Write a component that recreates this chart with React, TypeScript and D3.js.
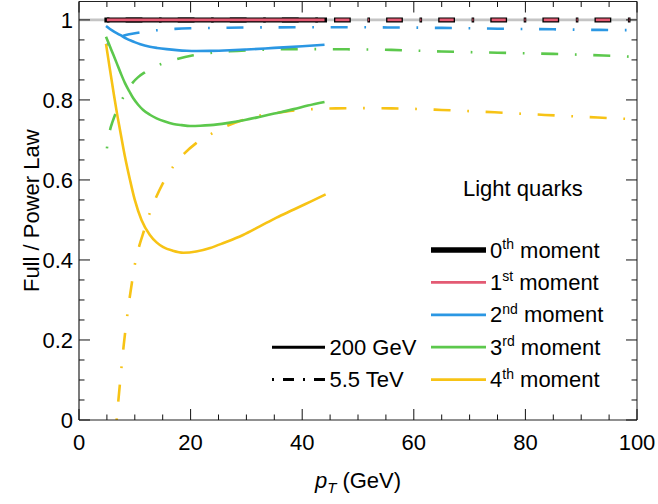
import React from 'react';
import * as d3 from 'd3';

const W = 658;
const H = 504;
const FONT = '"Liberation Sans", Arial, Helvetica, sans-serif';

// Axis ticks
const xMajor = [0, 20, 40, 60, 80, 100];
const xLabels = ['0', '20', '40', '60', '80', '100'];
const yMajor = [0, 0.2, 0.4, 0.6, 0.8, 1];
const yLabels = ['0', '0.2', '0.4', '0.6', '0.8', '1'];

// √s = 200 GeV (solid), pT in GeV vs Full / Power Law ratio
const m0_200: [number, number][] = [[5, 1], [44, 1]];
const m1_200: [number, number][] = [[5, 1], [44, 1]];
const m2_200: [number, number][] = [
  [4.84, 0.985], [6, 0.973], [7.35, 0.9625], [8.5, 0.953], [9.7, 0.946], [11, 0.939],
  [12.7, 0.933], [14, 0.930], [15.7, 0.927], [17.5, 0.9245], [19.3, 0.9228], [21, 0.9222],
  [23.5, 0.9225], [27, 0.924], [30, 0.926], [35, 0.930], [40, 0.934], [44, 0.938],
];
const m3_200: [number, number][] = [
  [4.84, 0.958], [5.8, 0.925], [6.76, 0.892], [7.5, 0.866], [8.24, 0.842], [9, 0.822],
  [9.73, 0.804], [10.6, 0.788], [11.5, 0.775], [12.7, 0.763], [13.9, 0.754], [15.4, 0.746],
  [16.9, 0.740], [18.4, 0.737], [19.9, 0.735], [21.7, 0.7355], [23.5, 0.737], [26.5, 0.742],
  [29.5, 0.749], [32.5, 0.758], [35, 0.766], [38.5, 0.777], [41, 0.786], [44, 0.795],
];
const m4_200: [number, number][] = [
  [4.84, 0.94], [5.5, 0.88], [6.2, 0.818], [6.8, 0.767], [7.35, 0.725], [8.24, 0.658],
  [9.14, 0.600], [10, 0.550], [11.2, 0.500], [12.7, 0.4625], [13.9, 0.444], [15.1, 0.432],
  [16.8, 0.423], [18.7, 0.418], [21, 0.421], [23.5, 0.430], [26, 0.443], [29.4, 0.4625],
  [32.4, 0.484], [35.4, 0.506], [38.5, 0.526], [41.5, 0.546], [44.2, 0.564],
];

// √s = 5.5 TeV (dash-dot)
const m0_5500: [number, number][] = [[5, 1], [99, 1]];
const m1_5500: [number, number][] = [[5, 1], [99, 1]];
const m2_5500: [number, number][] = [
  [5, 0.9375], [6, 0.948], [7, 0.955], [7.65, 0.959], [9, 0.964], [10.6, 0.968],
  [12, 0.971], [13.9, 0.974], [17.2, 0.9775], [19.9, 0.979], [25, 0.980], [30, 0.981],
  [40, 0.9815], [50, 0.9815], [57, 0.981], [65, 0.980], [75, 0.978], [85, 0.9765],
  [93, 0.975], [99, 0.9745],
];
const m3_5500: [number, number][] = [
  [5, 0.679], [5.56, 0.725], [6, 0.745], [6.45, 0.7625], [7.1, 0.784], [7.83, 0.804],
  [8.6, 0.823], [9.55, 0.842], [10.6, 0.857], [11.8, 0.869], [13.2, 0.880], [14.6, 0.889],
  [16, 0.896], [17.6, 0.9025], [20.5, 0.9115], [24, 0.918], [27, 0.9215], [30, 0.924],
  [36, 0.9265], [42, 0.927], [48, 0.9265], [56, 0.925], [65, 0.921], [75, 0.918],
  [85, 0.915], [94, 0.911], [99, 0.908],
];
const m4_5500: [number, number][] = [
  [6.75, 0], [7.05, 0.048], [7.5, 0.115], [8, 0.185], [8.5, 0.245], [9, 0.298],
  [9.5, 0.345], [10, 0.388], [10.8, 0.435], [11.65, 0.473], [12.6, 0.514], [13.8, 0.556],
  [15, 0.591], [16.8, 0.632], [18.8, 0.665], [21, 0.692], [23.8, 0.716], [26.5, 0.735],
  [29.4, 0.750], [32.4, 0.761], [35.7, 0.768], [38.7, 0.774], [42, 0.777], [46, 0.779],
  [51, 0.7795], [56, 0.779], [60.5, 0.7775], [65, 0.775], [74.5, 0.769], [83.5, 0.7625],
  [93, 0.756], [99, 0.752],
];

// Legend
const momentNums = ['0', '1', '2', '3', '4'];
const momentSups = ['th', 'st', 'nd', 'rd', 'th'];
const momentColors = ['#000000', '#E35A73', '#2B97E3', '#5CC84C', '#F7C315'];
const energyLabels = ['200 GeV', '5.5 TeV'];
const titleText = 'Light quarks';

const PLOT = { left: 79, right: 637, top: 1.5, bottom: 420 };

const x = d3.scaleLinear().domain([0, 100]).range([PLOT.left, PLOT.right]);
const y = d3.scaleLinear().domain([0, 1.046]).range([PLOT.bottom, PLOT.top]);

const line = d3
  .line<[number, number]>()
  .x((d) => x(d[0]))
  .y((d) => y(d[1]))
  .curve(d3.curveMonotoneX);

const DASH_DOT = '1.7 16.7 17 16.7';
const DASH_DOT_BLACK = '2.6 16.1 16.8 16.6';
const DASH_DOT_PINK = '0 0.8 1 18.2 14.2 17.9';
const LEGEND_DASH_DOT = '2 9 11 9';

const xMinor = d3.range(0, 101, 5).filter((v) => v % 20 !== 0);
const yMinor = d3.range(0, 21, 1).filter((v) => v % 4 !== 0).map((v) => v * 0.05);

export default function App() {
  const colored200 = [m2_200, m3_200, m4_200];
  const colored5500 = [m2_5500, m3_5500, m4_5500];
  const tickColor = '#111';
  const majorLen = 11;
  const minorLen = 5.5;

  return (
    <svg
      width={W}
      height={H}
      viewBox={`0 0 ${W} ${H}`}
      style={{ position: 'absolute', left: 0, top: 0, background: '#fff' }}
      fontFamily={FONT}
    >
      <rect x={0} y={0} width={W} height={H} fill="#fff" />
      <defs>
        <clipPath id="plotClip">
          <rect x={PLOT.left} y={PLOT.top} width={PLOT.right - PLOT.left} height={PLOT.bottom - PLOT.top} />
        </clipPath>
      </defs>

      <g clipPath="url(#plotClip)">
        {/* reference line at ratio = 1 */}
        <line x1={PLOT.left} x2={PLOT.right} y1={y(1)} y2={y(1)} stroke="#c4c4c4" strokeWidth={2.6} />

        {/* 5.5 TeV, dash-dot */}
        {colored5500.map((s, i) => (
          <path key={`d${i}`} d={line(s) ?? ''} fill="none" stroke={momentColors[i + 2]} strokeWidth={2.6} strokeDasharray={DASH_DOT} />
        ))}
        <path d={line(m0_5500) ?? ''} fill="none" stroke={momentColors[0]} strokeWidth={5} strokeDasharray={DASH_DOT_BLACK} />
        <path d={line(m1_5500) ?? ''} fill="none" stroke={momentColors[1]} strokeWidth={2.8} strokeDasharray={DASH_DOT_PINK} />

        {/* 200 GeV, solid */}
        {colored200.map((s, i) => (
          <path key={`s${i}`} d={line(s) ?? ''} fill="none" stroke={momentColors[i + 2]} strokeWidth={2.6} />
        ))}
        <path d={line(m0_200) ?? ''} fill="none" stroke={momentColors[0]} strokeWidth={5} strokeLinecap="square" />
        <path d={line(m1_200) ?? ''} fill="none" stroke={momentColors[1]} strokeWidth={2.8} />
      </g>

      {/* frame */}
      <line x1={PLOT.right} x2={PLOT.right} y1={PLOT.top} y2={PLOT.bottom} stroke="#8c8c8c" strokeWidth={2} />
      <line x1={PLOT.left} x2={PLOT.right} y1={PLOT.top} y2={PLOT.top} stroke="#222" strokeWidth={1.2} />
      <line x1={PLOT.left} x2={PLOT.left} y1={PLOT.top} y2={PLOT.bottom} stroke="#222" strokeWidth={1.2} />
      <line x1={PLOT.left} x2={PLOT.right} y1={PLOT.bottom} y2={PLOT.bottom} stroke="#222" strokeWidth={1.2} />

      {/* x ticks (bottom and top, inward) */}
      {xMajor.map((v) => (
        <g key={`xM${v}`}>
          <line x1={x(v)} x2={x(v)} y1={PLOT.bottom} y2={PLOT.bottom - majorLen} stroke={tickColor} strokeWidth={1} />
          <line x1={x(v)} x2={x(v)} y1={PLOT.top} y2={PLOT.top + majorLen} stroke={tickColor} strokeWidth={1} />
        </g>
      ))}
      {xMinor.map((v) => (
        <g key={`xm${v}`}>
          <line x1={x(v)} x2={x(v)} y1={PLOT.bottom} y2={PLOT.bottom - minorLen} stroke={tickColor} strokeWidth={1} />
          <line x1={x(v)} x2={x(v)} y1={PLOT.top} y2={PLOT.top + minorLen} stroke={tickColor} strokeWidth={1} />
        </g>
      ))}
      {/* y ticks (left and right, inward) */}
      {yMajor.map((v) => (
        <g key={`yM${v}`}>
          <line x1={PLOT.left} x2={PLOT.left + majorLen} y1={y(v)} y2={y(v)} stroke={tickColor} strokeWidth={1} />
          <line x1={PLOT.right} x2={PLOT.right - majorLen} y1={y(v)} y2={y(v)} stroke={tickColor} strokeWidth={1} />
        </g>
      ))}
      {yMinor.map((v) => (
        <g key={`ym${v}`}>
          <line x1={PLOT.left} x2={PLOT.left + minorLen} y1={y(v)} y2={y(v)} stroke={tickColor} strokeWidth={1} />
          <line x1={PLOT.right} x2={PLOT.right - minorLen} y1={y(v)} y2={y(v)} stroke={tickColor} strokeWidth={1} />
        </g>
      ))}

      {/* tick labels */}
      {xMajor.map((v, i) => (
        <text key={`xl${v}`} x={x(v)} y={450} fontSize={22} textAnchor="middle" fill="#000">
          {xLabels[i]}
        </text>
      ))}
      {yMajor.map((v, i) => (
        <text key={`yl${v}`} x={PLOT.left - 6} y={y(v) + 8} fontSize={22} textAnchor="end" fill="#000">
          {yLabels[i]}
        </text>
      ))}

      {/* axis titles */}
      <text x={(PLOT.left + PLOT.right) / 2} y={488} fontSize={22} textAnchor="middle" fill="#000">
        <tspan fontStyle="italic">p</tspan>
        <tspan fontStyle="italic" fontSize={15} dy={5}>T</tspan>
        <tspan dy={-5}> (GeV)</tspan>
      </text>
      <text transform={`translate(39, ${(PLOT.top + PLOT.bottom) / 2}) rotate(-90)`} fontSize={22} textAnchor="middle" fill="#000">
        Full / Power Law
      </text>

      {/* legend */}
      <text x={463} y={196} fontSize={22} fill="#000">{titleText}</text>
      {momentNums.map((n, i) => {
        const ly = 250 + i * 32.4;
        return (
          <g key={`lg${i}`}>
            <line x1={431} x2={486} y1={ly} y2={ly} stroke={momentColors[i]} strokeWidth={i === 0 ? 5.5 : 2.8} />
            <text x={490} y={ly + 7.5} fontSize={22} fill="#000">
              {n}
              <tspan fontSize={14} dy={-8.5}>{momentSups[i]}</tspan>
              <tspan dy={8.5}> moment</tspan>
            </text>
          </g>
        );
      })}
      {energyLabels.map((lab, i) => {
        const ly = 250 + (3 + i) * 32.4;
        return (
          <g key={`le${i}`}>
            <line x1={272} x2={325} y1={ly} y2={ly} stroke="#000" strokeWidth={3} strokeDasharray={i === 1 ? LEGEND_DASH_DOT : undefined} />
            <text x={329.5} y={ly + 7.5} fontSize={22} fill="#000">{lab}</text>
          </g>
        );
      })}
    </svg>
  );
}
